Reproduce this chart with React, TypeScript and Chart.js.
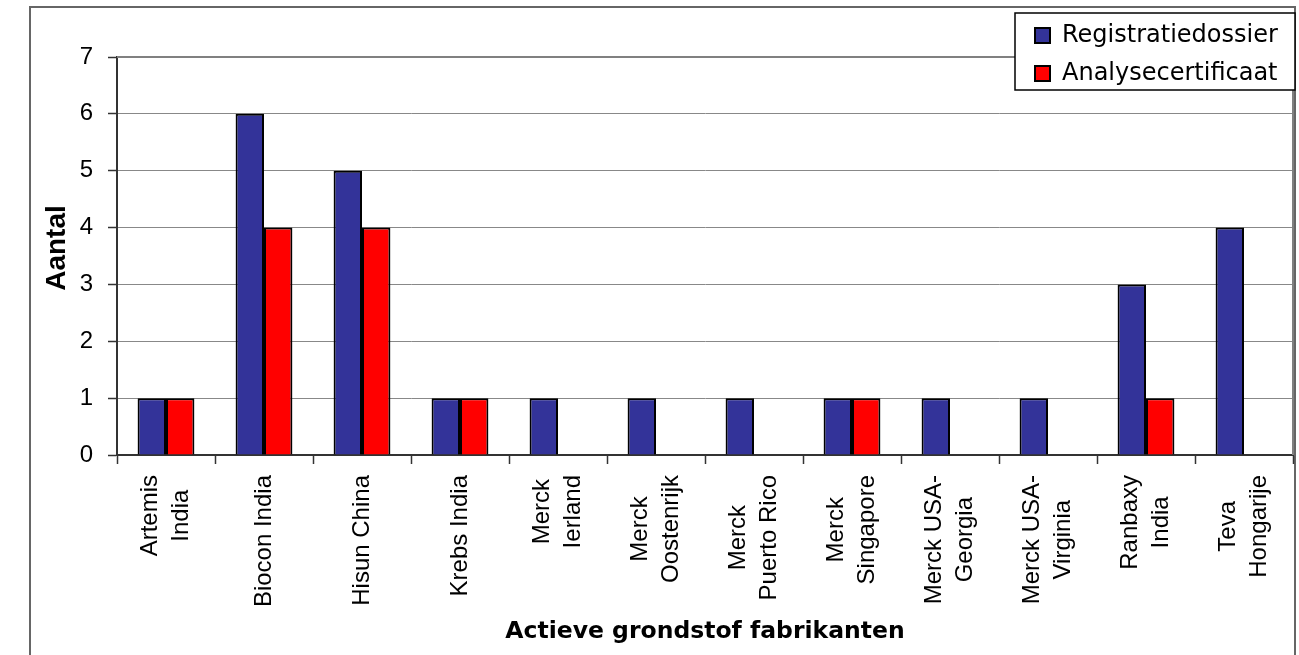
import React, { useEffect, useRef } from "react";
import { Chart, registerables } from "chart.js";

Chart.register(...registerables);

// ---- data ----
const categories: string[][] = [
  ["Artemis", "India"],
  ["Biocon India"],
  ["Hisun China"],
  ["Krebs India"],
  ["Merck", "Ierland"],
  ["Merck", "Oostenrijk"],
  ["Merck", "Puerto Rico"],
  ["Merck", "Singapore"],
  ["Merck USA-", "Georgia"],
  ["Merck USA-", "Virginia"],
  ["Ranbaxy", "India"],
  ["Teva", "Hongarije"],
];
const registratiedossier = [1, 6, 5, 1, 1, 1, 1, 1, 1, 1, 3, 4];
const analysecertificaat = [1, 4, 4, 1, 0, 0, 0, 1, 0, 0, 1, 0];
const yTicks = [0, 1, 2, 3, 4, 5, 6, 7];
const seriesNames = ["Registratiedossier", "Analysecertificaat"];
const seriesColors = ["#333399", "#FF0000"];
const xTitle = "Actieve grondstof fabrikanten";
const yTitle = "Aantal";

const W = 1299;
const H = 655;
const TICK_FONT = '24px "Liberation Sans", Arial, sans-serif';

const decorPlugin = {
  id: "decor",
  beforeDraw(chart: any) {
    const ctx = chart.ctx as CanvasRenderingContext2D;
    ctx.save();
    ctx.fillStyle = "#ffffff";
    ctx.fillRect(0, 0, chart.width, chart.height);
    ctx.strokeStyle = "#666666";
    ctx.lineWidth = 2;
    ctx.strokeRect(30, 7, 1265, 700);
    ctx.restore();
  },
  afterDraw(chart: any) {
    const ctx = chart.ctx as CanvasRenderingContext2D;
    const area = chart.chartArea;
    const xs = chart.scales.x;

    // plot area border (top & right)
    ctx.save();
    ctx.strokeStyle = "#808080";
    ctx.lineWidth = 2;
    ctx.beginPath();
    ctx.moveTo(area.left, area.top);
    ctx.lineTo(area.right, area.top);
    ctx.lineTo(area.right, area.bottom);
    ctx.stroke();
    ctx.restore();

    // category labels, rotated, lines centred
    ctx.save();
    ctx.font = TICK_FONT;
    ctx.fillStyle = "#000000";
    const lh = 31;
    categories.forEach((lines, i) => {
      const px = xs.getPixelForValue(i);
      const maxW = Math.max(...lines.map((l) => ctx.measureText(l).width));
      ctx.save();
      ctx.translate(px, area.bottom + 20);
      ctx.rotate(-Math.PI / 2);
      ctx.textAlign = "center";
      ctx.textBaseline = "middle";
      lines.forEach((l, j) => {
        ctx.fillText(l, -maxW / 2, (j - (lines.length - 1) / 2) * lh);
      });
      ctx.restore();
    });
    ctx.restore();

    // x title
    ctx.save();
    ctx.font = 'bold 23.5px "DejaVu Sans", sans-serif';
    ctx.fillStyle = "#000000";
    ctx.textAlign = "center";
    ctx.textBaseline = "alphabetic";
    ctx.fillText(xTitle, (area.left + area.right) / 2, 638);
    ctx.restore();

    // y title
    ctx.save();
    ctx.font = 'bold 28px "Liberation Sans", Arial, sans-serif';
    ctx.fillStyle = "#000000";
    ctx.translate(57, (area.top + area.bottom) / 2 - 8);
    ctx.rotate(-Math.PI / 2);
    ctx.textAlign = "center";
    ctx.textBaseline = "middle";
    ctx.fillText(yTitle, 0, 0);
    ctx.restore();

    // legend
    ctx.save();
    const lx = 1015, ly = 13, lw = 280, lhgt = 77;
    ctx.fillStyle = "#ffffff";
    ctx.fillRect(lx, ly, lw, lhgt);
    ctx.strokeStyle = "#000000";
    ctx.lineWidth = 1.5;
    ctx.strokeRect(lx, ly, lw, lhgt);
    ctx.font = '24px "DejaVu Sans", sans-serif';
    ctx.textAlign = "left";
    ctx.textBaseline = "alphabetic";
    seriesNames.forEach((name, k) => {
      const base = 42 + k * 38;
      ctx.fillStyle = seriesColors[k];
      ctx.fillRect(1035, base - 14, 15, 15);
      ctx.strokeStyle = "#000000";
      ctx.lineWidth = 2;
      ctx.strokeRect(1035, base - 14, 15, 15);
      ctx.fillStyle = "#000000";
      ctx.fillText(name, 1062, base);
    });
    ctx.restore();
  },
};

export default function App() {
  const ref = useRef<HTMLCanvasElement | null>(null);

  useEffect(() => {
    if (!ref.current) return;
    const chart = new Chart(ref.current, {
      type: "bar",
      data: {
        labels: categories.map((c) => c.join(" ")),
        datasets: [
          {
            label: seriesNames[0],
            data: registratiedossier,
            backgroundColor: seriesColors[0],
            borderColor: "#000000",
            borderWidth: 2,
            categoryPercentage: 0.58,
            barPercentage: 1.0,
          },
          {
            label: seriesNames[1],
            data: analysecertificaat,
            backgroundColor: seriesColors[1],
            borderColor: "#000000",
            borderWidth: 2,
            categoryPercentage: 0.58,
            barPercentage: 1.0,
          },
        ],
      },
      options: {
        responsive: false,
        animation: false,
        layout: { padding: { left: 30, top: 57, right: 6, bottom: 0 } },
        plugins: {
          legend: { display: false },
          tooltip: { enabled: false },
        },
        scales: {
          x: {
            grid: {
              display: true,
              drawOnChartArea: false,
              drawTicks: true,
              tickLength: 9,
              tickColor: "#333333",
              tickWidth: 1.5,
              offset: true,
            },
            border: { display: true, color: "#333333", width: 2 },
            ticks: { display: false },
            afterFit: (s: any) => {
              s.height = 200;
            },
          },
          y: {
            min: 0,
            max: 7,
            afterBuildTicks: (s: any) => {
              s.ticks = yTicks.map((v) => ({ value: v }));
            },
            ticks: {
              font: { family: '"Liberation Sans", Arial, sans-serif', size: 24 },
              color: "#000000",
              padding: 15,
            },
            grid: {
              color: "#888888",
              lineWidth: 1,
              tickLength: 9,
              tickColor: "#333333",
              tickWidth: 1.5,
            },
            border: { display: true, color: "#333333", width: 2 },
            afterFit: (s: any) => {
              s.width = 87;
            },
          },
        },
      },
      plugins: [decorPlugin],
    });
    return () => chart.destroy();
  }, []);

  return (
    <div style={{ position: "fixed", left: 0, top: 0, width: W, height: H, background: "#fff" }}>
      <canvas ref={ref} width={W} height={H} style={{ display: "block", width: W, height: H }} />
    </div>
  );
}
